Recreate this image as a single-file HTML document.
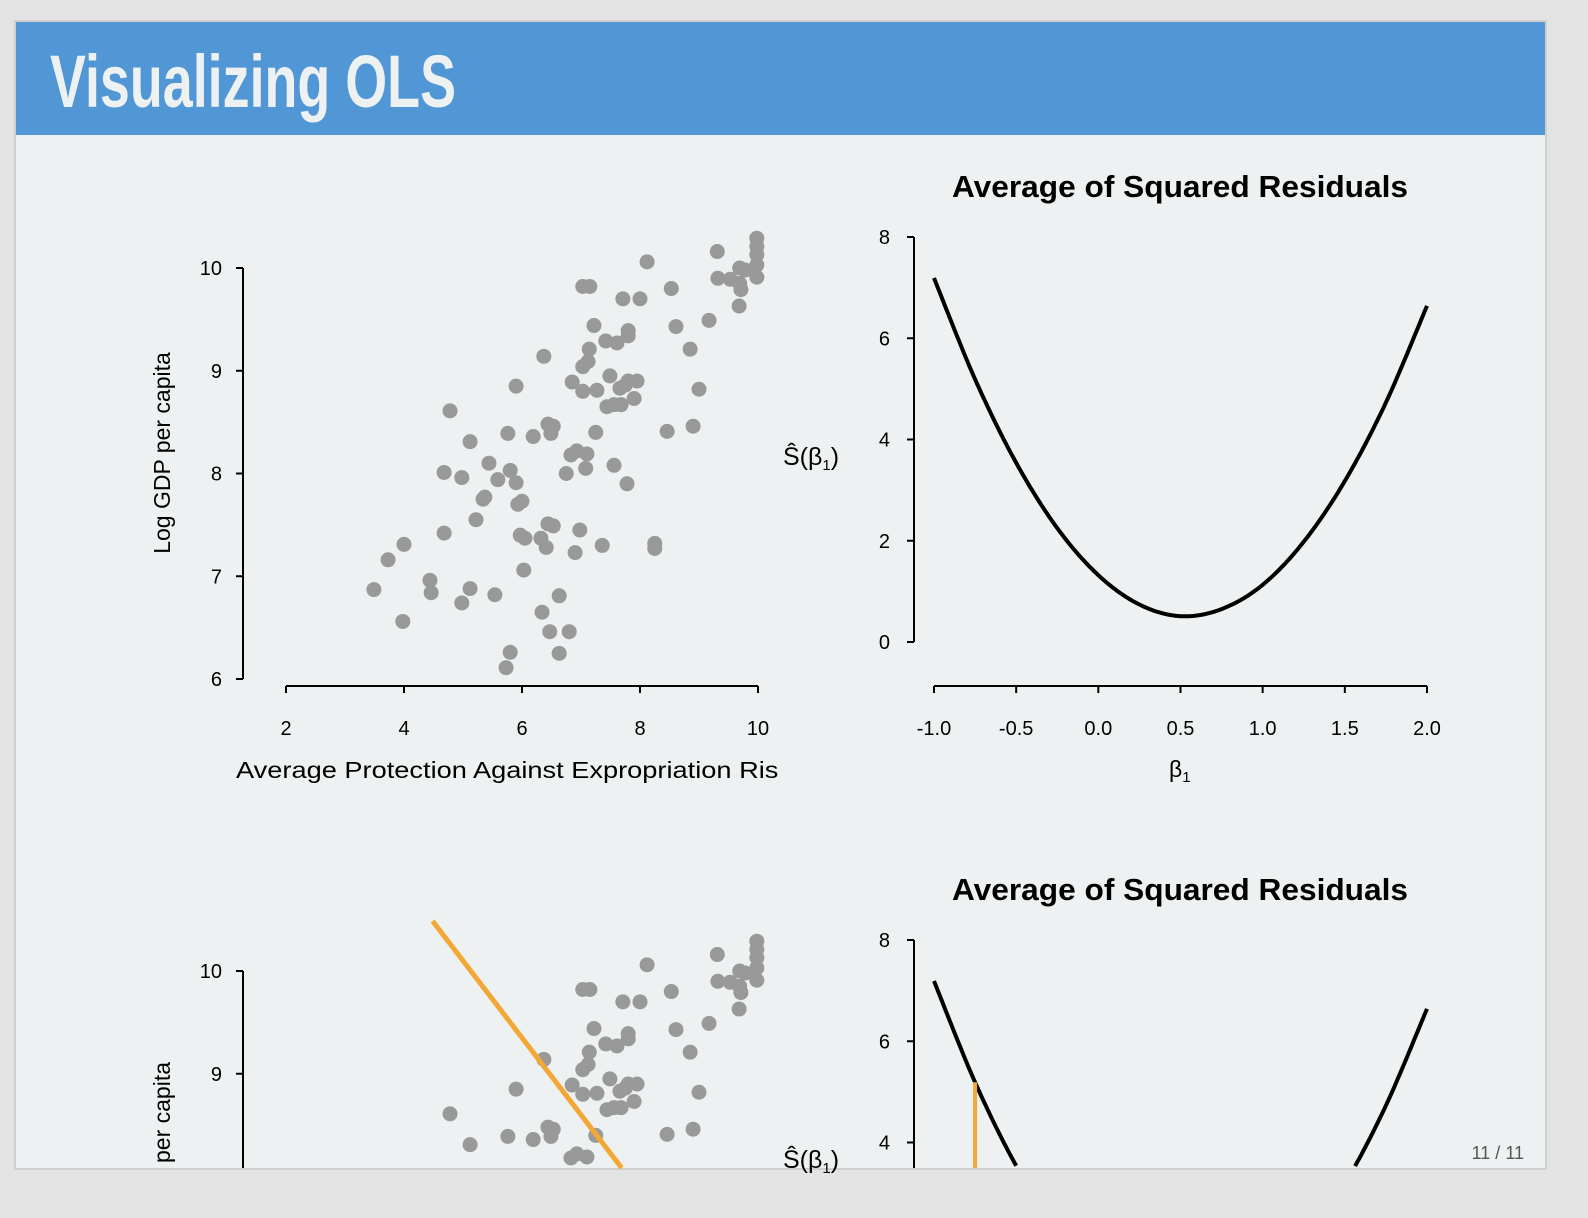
<!DOCTYPE html>
<html><head><meta charset="utf-8">
<style>
html,body{margin:0;padding:0;background:#e3e3e3;width:1588px;height:1218px;overflow:hidden;font-family:"Liberation Sans",sans-serif;}
svg{position:absolute;left:0;top:0;display:block;overflow:hidden;}
</style></head>
<body>
<svg id="chart" width="1588" height="1218" viewBox="0 0 1588 1218" xmlns="http://www.w3.org/2000/svg">
<rect x="14" y="20" width="1533" height="1150" fill="#cfcfcf"/>
<rect x="16" y="22" width="1529" height="1146" fill="#edf1f2"/>
<g id="content">
<rect x="16" y="22" width="1529" height="113" fill="#5197d5"/>
<text x="50" y="107" font-size="74" font-weight="bold" fill="#eef1f2" textLength="406" lengthAdjust="spacingAndGlyphs">Visualizing OLS</text>
<text x="1524" y="1159" font-size="18" fill="#555" text-anchor="end">11 / 11</text>
</g>
</svg>
<script>
const xs=[9.98,9.98,9.98,9.98,9.31,9.98,9.69,9.78,9.53,9.32,9.71,9.69,9.68,8.12,7.15,7.03,7.71,8.0,8.53,9.17,8.61,7.22,7.80,7.80,7.61,7.42,7.14,8.85,6.37,7.12,7.03,5.90,6.85,7.49,7.03,7.27,7.80,7.66,7.75,7.95,7.90,7.44,7.56,7.68,9.0,4.78,6.44,6.53,6.49,6.19,5.76,5.12,7.25,6.93,7.10,6.83,8.46,8.90,5.44,4.68,5.80,4.98,5.59,5.90,6.0,5.93,6.75,7.08,7.56,5.34,5.37,5.22,4.68,7.78,8.25,8.25,5.97,6.05,6.32,6.41,6.44,6.53,6.98,7.36,6.90,3.73,4.0,6.03,4.44,4.46,3.49,5.12,4.98,5.54,3.98,6.63,6.34,6.47,6.80,5.80,6.63,5.73];
const ys=[10.29,10.21,10.13,10.03,10.16,9.91,10.0,9.98,9.89,9.90,9.79,9.85,9.63,10.06,9.82,9.82,9.70,9.70,9.80,9.49,9.43,9.44,9.34,9.39,9.27,9.29,9.21,9.21,9.14,9.09,9.04,8.85,8.89,8.95,8.80,8.81,8.90,8.83,8.86,8.90,8.73,8.65,8.67,8.67,8.82,8.61,8.48,8.46,8.39,8.36,8.39,8.31,8.40,8.22,8.19,8.18,8.41,8.46,8.10,8.01,8.03,7.96,7.94,7.91,7.73,7.70,8.0,8.05,8.08,7.75,7.77,7.55,7.42,7.90,7.32,7.27,7.40,7.37,7.37,7.28,7.51,7.49,7.45,7.30,7.23,7.16,7.31,7.06,6.96,6.84,6.87,6.88,6.74,6.82,6.56,6.81,6.65,6.46,6.46,6.26,6.25,6.11];
const xTicks=[2,4,6,8,10];
const yTicks=[6,7,8,9,10];
const betaGrid=[-1,-0.75,-0.5,-0.25,0,0.25,0.5,0.75,1,1.25,1.5,1.75,2];
const sValues=[7.19,5.19,3.54,2.25,1.32,0.74,0.51,0.65,1.13,1.98,3.18,4.73,6.64];
const betaTicks=[-1.0,-0.5,0.0,0.5,1.0,1.5,2.0];
const sTicks=[0,2,4,6,8];
const candidateBeta=[-0.75];
const candidateIntercept=[13.85];

const svg=document.getElementById('content');
const NS='http://www.w3.org/2000/svg';
const YMAX=1168;
function mk(tag,attrs,parent){const e=document.createElementNS(NS,tag);for(const k in attrs)e.setAttribute(k,attrs[k]);(parent||svg).appendChild(e);return e;}
function txt(x,y,s,attrs,parent){const e=mk('text',Object.assign({x:x,y:y,'font-size':20,fill:'#000'},attrs),parent);e.textContent=s;return e;}
function sub(parent,s,size){const t=mk('tspan',{'font-size':size,dy:5},parent);t.textContent=s;return t;}

function panel(dy,showLine){
  const g=mk('g',{});
  
  
  const sx=v=>286+(v-2)*59, sy=v=>268+dy+(10-v)*102.75;
  const vis=y=>y<YMAX-2;
  const ya=mk('line',{x1:243,x2:243,y1:sy(10),y2:Math.min(sy(6),YMAX),stroke:'#000','stroke-width':2},g);
  
  
  yTicks.forEach(t=>{if(!vis(sy(t)+8))return;
    mk('line',{x1:236,x2:243,y1:sy(t),y2:sy(t),stroke:'#000','stroke-width':2},g);
    const l=txt(222,sy(t)+7,String(t),{'text-anchor':'end'},g);
    
    });
  if(vis(686+dy)){
  const xa=mk('line',{x1:sx(2),x2:sx(10),y1:686+dy,y2:686+dy,stroke:'#000','stroke-width':2},g);
  
  
  xTicks.forEach(t=>{mk('line',{x1:sx(t),x2:sx(t),y1:686+dy,y2:693+dy,stroke:'#000','stroke-width':2},g);
    const l=txt(sx(t),735+dy,String(t),{'text-anchor':'middle'},g);
    
    });
  const cid='clip'+dy;
  const cp=mk('clipPath',{id:cid},g);mk('rect',{x:200,y:740+dy,width:580,height:60},cp);
  const xt=txt(236,778+dy,'Average Protection Against Expropriation Risk',{'font-size':23,'clip-path':'url(#'+cid+')','textLength':556,lengthAdjust:'spacingAndGlyphs'},g);
  
  
  }
  const yt=txt(0,0,'Log GDP per capita',{'font-size':23,'text-anchor':'middle',transform:'translate(170,453) rotate(-90)'},g);
  if(dy){yt.textContent='per capita';yt.setAttribute('text-anchor','start');yt.setAttribute('transform','translate(170,1163) rotate(-90)');}
  
  
  xs.forEach((v,i)=>{const cy=sy(ys[i]);if(!vis(cy+7))return;
    const c=mk('circle',{cx:sx(v),cy:cy,r:7.5,fill:'#999'},g);
    
    });
  if(showLine){
    const b=candidateBeta[0],a=candidateIntercept[0];
    const yTop=218+dy;
    const xAt=py=>{const yv=10-(py-268-dy)/102.75;return sx((yv-a)/b);};
    const y1=Math.max(yTop,sy(a+b*2)), y2=Math.min(YMAX,sy(a+b*10));
    const l=mk('line',{x1:xAt(y1),y1:y1,x2:xAt(y2),y2:y2,stroke:'#f3a835','stroke-width':5},g);
    
    
  }
  const bx=v=>934+(v+1)*164.33, by=v=>642+dy-v*50.625;
  const tt=txt(1180,197+dy,'Average of Squared Residuals',{'font-size':31,'font-weight':'bold','text-anchor':'middle',textLength:456,lengthAdjust:'spacingAndGlyphs'},g);
  
  
  const ra=mk('line',{x1:914,x2:914,y1:by(8),y2:Math.min(by(0),YMAX),stroke:'#000','stroke-width':2},g);
  
  
  sTicks.forEach(t=>{if(!vis(by(t)+8))return;
    mk('line',{x1:907,x2:914,y1:by(t),y2:by(t),stroke:'#000','stroke-width':2},g);
    const l=txt(890,by(t)+7,String(t),{'text-anchor':'end'},g);
    
    });
  if(vis(686+dy)){
  const rx=mk('line',{x1:bx(-1),x2:bx(2),y1:686+dy,y2:686+dy,stroke:'#000','stroke-width':2},g);
  
  
  betaTicks.forEach(t=>{mk('line',{x1:bx(t),x2:bx(t),y1:686+dy,y2:693+dy,stroke:'#000','stroke-width':2},g);
    const l=txt(bx(t),735+dy,t.toFixed(1),{'text-anchor':'middle'},g);
    
    });
  const bl=txt(1169,777+dy,'β',{'font-size':23},g);
  sub(bl,'1',15);
  
  
  }
  const sl=txt(783,465+dy,'Ŝ(β',{'font-size':25},g);
  sub(sl,'1',15);
  const cl=mk('tspan',{dy:-5},sl);cl.textContent=')';
  
  
  const P=betaGrid.map((b,i)=>[bx(b),by(sValues[i])]);
  const pts=[];
  for(let i=0;i<P.length-1;i++){const p0=P[Math.max(0,i-1)],p1=P[i],p2=P[i+1],p3=P[Math.min(P.length-1,i+2)];
    for(let k=0;k<20;k++){const t=k/20,t2=t*t,t3=t2*t;
      const f=j=>0.5*((2*p1[j])+(-p0[j]+p2[j])*t+(2*p0[j]-5*p1[j]+4*p2[j]-p3[j])*t2+(-p0[j]+3*p1[j]-3*p2[j]+p3[j])*t3);
      pts.push([f(0),f(1)]);}}
  pts.push(P[P.length-1]);
  let d='',pen=false;
  pts.forEach(p=>{if(p[1]<=YMAX+1){d+=(pen?' L':' M')+p[0].toFixed(1)+','+p[1].toFixed(1);pen=true;}else pen=false;});
  const cv=mk('path',{d:d,fill:'none',stroke:'#000','stroke-width':4},g);
  
  
  if(showLine){
    const b=candidateBeta[0];const i=betaGrid.indexOf(b);
    const v=mk('line',{x1:bx(b),x2:bx(b),y1:Math.min(by(0),YMAX),y2:by(sValues[i]),stroke:'#f3a835','stroke-width':4},g);
    
    
  }
}
panel(0,false);
panel(703,true);
</script>
</body></html>
